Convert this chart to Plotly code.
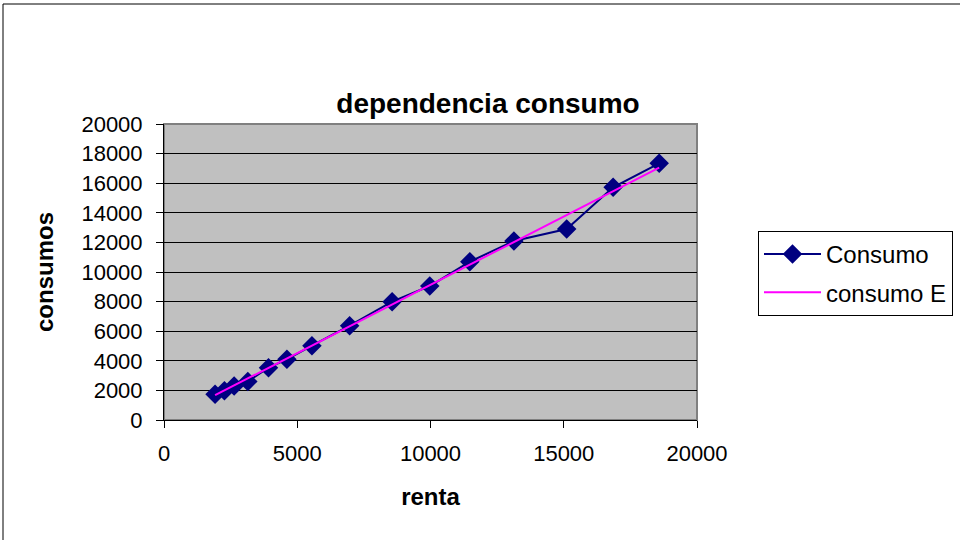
import plotly.graph_objects as go

renta = [1917, 2267, 2631, 3146, 3921, 4612, 5552, 6966, 8559, 9973, 11476, 13130, 15111, 16852, 18581]
consumo = [1737, 1973, 2297, 2601, 3535, 4101, 5020, 6372, 7994, 9054, 10695, 12095, 12906, 15723, 17345]
consumo_e = [1676, 2000, 2335, 2811, 3526, 4164, 5031, 6337, 7807, 9112, 10500, 12026, 13855, 15461, 17057]

x_ticks = [0, 5000, 10000, 15000, 20000]
x_labels = ["0", "5000", "10000", "15000", "20000"]
y_ticks = [0, 2000, 4000, 6000, 8000, 10000, 12000, 14000, 16000, 18000, 20000]
y_labels = ["0", "2000", "4000", "6000", "8000", "10000", "12000", "14000", "16000", "18000", "20000"]

FONT = "Liberation Sans, Arial, sans-serif"

fig = go.Figure()
fig.add_trace(go.Scatter(
    x=renta, y=consumo, mode="lines+markers", name="Consumo",
    line=dict(color="#000080", width=2),
    marker=dict(symbol="diamond", size=15, color="#000080"),
    legendgroup="a",
))
fig.add_trace(go.Scatter(
    x=renta, y=consumo_e, mode="lines", name="consumo E",
    line=dict(color="#FF00FF", width=2),
    legendgroup="b",
))

L, R, T, B = 164, 263, 124, 120
PW, PH = 960 - L - R, 540 - T - B

fig.update_layout(
    width=960, height=540,
    margin=dict(l=L, r=R, t=T, b=B, pad=0, autoexpand=False),
    paper_bgcolor="white",
    plot_bgcolor="#C0C0C0",
    font=dict(family=FONT, size=23, color="black"),
    title=dict(text="<b>dependencia consumo</b>", font=dict(size=28, family=FONT, color="black"),
               x=488 / 960, xanchor="center", xref="container",
               y=1 - 103 / 540, yanchor="middle", yref="container"),
    xaxis=dict(range=[0, 20000], tickvals=x_ticks, ticktext=x_labels, ticks="outside", ticklen=7,
               tickcolor="black", showgrid=False, zeroline=False, showline=True, linecolor="black",
               linewidth=1, tickfont=dict(size=22), automargin=False,
               title=dict(text="<b>renta</b>", font=dict(size=24), standoff=22),
               ticklabelstandoff=7),
    yaxis=dict(range=[0, 20000], tickvals=y_ticks, ticktext=y_labels, ticks="outside", ticklen=7,
               tickcolor="black", showgrid=True, gridcolor="black", gridwidth=1, zeroline=False,
               showline=True, linecolor="black", linewidth=1, tickfont=dict(size=22), automargin=False,
               title=dict(text="<b>consumos</b>", font=dict(size=24), standoff=21),
               ticklabelstandoff=9),
    legend=dict(x=(758 - L) / PW, xanchor="left", y=(420 - 231) / PH, yanchor="top",
                bordercolor="black", borderwidth=1, bgcolor="white",
                font=dict(size=24, family=FONT), tracegroupgap=4, itemwidth=57),
    showlegend=True,
)

# plot-area border (gray) and outer chart border
fig.add_shape(type="rect", xref="paper", yref="paper", x0=0, x1=1, y0=0, y1=1,
              line=dict(color="#808080", width=2), layer="below")
fig.add_shape(type="line", xref="paper", yref="paper",
              x0=(3 - L) / PW, x1=(3 - L) / PW, y0=(420 - 4) / PH, y1=(420 - 560) / PH,
              line=dict(color="black", width=1))
fig.add_shape(type="line", xref="paper", yref="paper",
              x0=(3 - L) / PW, x1=(980 - L) / PW, y0=(420 - 4) / PH, y1=(420 - 4) / PH,
              line=dict(color="black", width=1))

fig.write_html("out.html", config={"displayModeBar": False},
               post_script="document.body.style.margin='0px';")
